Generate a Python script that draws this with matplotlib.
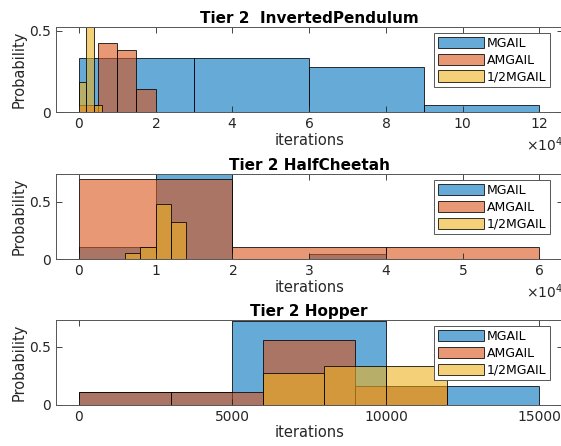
import numpy as np
import matplotlib
matplotlib.use("Agg")
import matplotlib.pyplot as plt
from matplotlib.ticker import FuncFormatter

save_file_name = "out.png"

plt.rcParams['font.family'] = ['DejaVu Sans']

# series names and MATLAB default colours
names = ['MGAIL', 'AMGAIL', '1/2MGAIL']
colors = [(0.0, 0.447, 0.741), (0.850, 0.325, 0.098), (0.929, 0.694, 0.125)]

# Tier 2 InvertedPendulum (bin edges in iterations, probability per bin)
ip_edges_mgail = [0, 30000, 60000, 90000, 120000]
ip_prob_mgail = [0.333, 0.333, 0.279, 0.042]
ip_edges_amgail = [0, 5000, 10000, 15000, 20000]
ip_prob_amgail = [0.043, 0.426, 0.380, 0.141]
ip_edges_half = [0, 2000, 4000, 6000]
ip_prob_half = [0.186, 0.770, 0.043]

# Tier 2 HalfCheetah
hc_edges_mgail = [0, 10000, 20000, 30000, 40000]
hc_prob_mgail = [0.104, 0.846, 0.0, 0.050]
hc_edges_amgail = [0, 20000, 40000, 60000]
hc_prob_amgail = [0.694, 0.104, 0.104]
hc_edges_half = [6000, 8000, 10000, 12000, 14000]
hc_prob_half = [0.052, 0.104, 0.477, 0.320]

# Tier 2 Hopper
hop_edges_mgail = [0, 5000, 10000, 15000]
hop_prob_mgail = [0.111, 0.722, 0.167]
hop_edges_amgail = [0, 3000, 6000, 9000, 12000]
hop_prob_amgail = [0.111, 0.111, 0.556, 0.163]
hop_edges_half = [6000, 8000, 10000, 12000]
hop_prob_half = [0.278, 0.333, 0.333]

panels = [
    dict(title='Tier 2  InvertedPendulum',
         series=[(ip_edges_mgail, ip_prob_mgail), (ip_edges_amgail, ip_prob_amgail), (ip_edges_half, ip_prob_half)],
         xlim=(-6000, 126000), ylim=0.525, xticks=np.arange(0, 120001, 20000), sci=True),
    dict(title='Tier 2 HalfCheetah',
         series=[(hc_edges_mgail, hc_prob_mgail), (hc_edges_amgail, hc_prob_amgail), (hc_edges_half, hc_prob_half)],
         xlim=(-3000, 63000), ylim=0.74, xticks=np.arange(0, 60001, 10000), sci=True),
    dict(title='Tier 2 Hopper',
         series=[(hop_edges_mgail, hop_prob_mgail), (hop_edges_amgail, hop_prob_amgail), (hop_edges_half, hop_prob_half)],
         xlim=(-750, 15750), ylim=0.728, xticks=[0, 5000, 10000, 15000], sci=False),
]

# axes boxes in pixels (top, bottom) for a 561x446 figure
W, H = 561.0, 446.0
left_px, right_px = 55.7, 562.5
rows_px = [(26.7, 112.3), (174.0, 259.3), (320.0, 405.0)]

fig = plt.figure(figsize=(W / 100, H / 100), dpi=100)
fig.patch.set_facecolor('white')

for p, (top, bot) in zip(panels, rows_px):
    ax = fig.add_axes([left_px / W, (H - bot) / H, (right_px - left_px) / W, (bot - top) / H])
    handles = []
    for (edges, prob), name, c in zip(p['series'], names, colors):
        edges = np.asarray(edges, dtype=float)
        b = ax.bar(edges[:-1], prob, width=np.diff(edges), align='edge',
                   facecolor=(*c, 0.6), edgecolor=(0, 0, 0, 0.8), linewidth=0.7, label=name)
        handles.append(b)
    ax.set_xlim(*p['xlim'])
    ax.set_ylim(0, p['ylim'])
    ax.set_xticks(p['xticks'])
    ax.set_yticks([0, 0.5])
    ax.yaxis.set_major_formatter(FuncFormatter(lambda v, pos: '%g' % v))
    if p['sci']:
        ax.ticklabel_format(axis='x', style='sci', scilimits=(4, 4), useMathText=True)
        ax.xaxis.get_offset_text().set_fontsize(10)
        ax.xaxis.get_offset_text().set_color('#262626')
    ax.tick_params(direction='in', top=True, right=True, length=4, width=0.6,
                   labelsize=10, colors='#262626')
    for s in ax.spines.values():
        s.set_color('#555555')
        s.set_linewidth(0.7)
    ax.set_title(p['title'], fontsize=11, fontweight='bold', pad=3)
    ax.set_xlabel('iterations', fontsize=10.5, color='#262626', labelpad=1)
    ax.set_ylabel('Probability', fontsize=10.5, color='#262626', labelpad=2)
    leg = ax.legend(handles=handles, loc='upper right', bbox_to_anchor=(0.975, 0.926),
                    borderaxespad=0, fontsize=9, fancybox=False, framealpha=1,
                    edgecolor='#555555', handlelength=3.7, handleheight=1.0,
                    handletextpad=0.2, labelspacing=0.3, borderpad=0.3)
    leg.get_frame().set_linewidth(0.7)

fig.savefig(save_file_name, dpi=100)
